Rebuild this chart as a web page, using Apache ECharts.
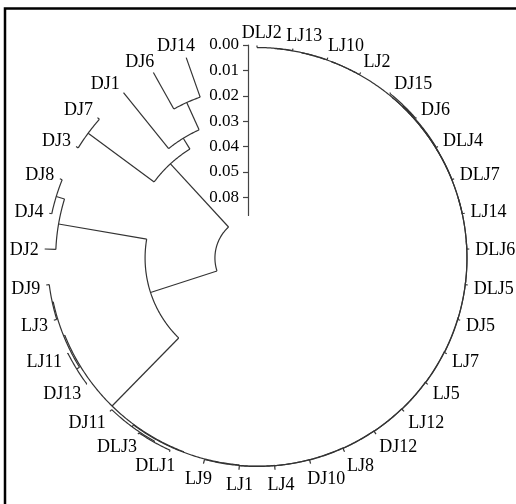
<!DOCTYPE html>
<html>
<head>
<meta charset="utf-8">
<script src="https://cdn.jsdelivr.net/npm/echarts@6/dist/echarts.min.js"></script>
<style>
  html, body { margin: 0; padding: 0; background: #fff; }
  #chart { width: 516px; height: 504px; }
</style>
</head>
<body>
<div id="chart"></div>
<script>
// Leaf labels, in drawing order (clockwise from the top)
const leafLabels = ['DLJ2','LJ13','LJ10','LJ2','DJ15','DJ6','DLJ4','DLJ7','LJ14','DLJ6',
  'DLJ5','DJ5','LJ7','LJ5','LJ12','DJ12','LJ8','DJ10','LJ4','LJ1','LJ9','DLJ1','DLJ3',
  'DJ11','DJ13','LJ11','LJ3','DJ9','DJ2','DJ4','DJ8','DJ3','DJ7','DJ1','DJ6','DJ14'];

// Merge steps (hclust style: negative = leaf number, positive = earlier merge row)
const mergePairs = [
  [-1, -2], [1, -3], [2, -4], [-5, -6], [4, -7], [5, -8], [3, 6], [7, -9], [8, -10],
  [9, -11], [10, -12], [11, -13], [12, -14], [13, -15], [14, -16], [15, -17], [16, -18],
  [17, -19], [18, -20], [19, -21], [-22, -23], [21, -24], [20, 22], [-25, -26],
  [-27, -28], [24, 25], [23, 26], [-30, -31], [-29, 28], [27, 29], [-32, -33],
  [-35, -36], [-34, 32], [31, 33], [30, 34]
];
// Genetic distance at each merge
const mergeHeights = [
  0.0008, 0.0009, 0.0010, 0.0004, 0.0007, 0.0009, 0.0010, 0.0010, 0.0010,
  0.0010, 0.0010, 0.0010, 0.0011, 0.0012, 0.0013, 0.0014, 0.0015,
  0.0016, 0.0016, 0.0017, 0.0006, 0.0010, 0.0019, 0.0003,
  0.0012, 0.0016, 0.0021, 0.0010, 0.0044, 0.0396, 0.0010,
  0.0165, 0.0283, 0.0333, 0.0671
];

// Scale bar ticks and their printed labels
const scaleTicks = [0, 0.01, 0.02, 0.03, 0.04, 0.05, 0.06];
const scaleLabels = ['0.00', '0.01', '0.02', '0.03', '0.04', '0.05', '0.08'];

const ANGLE_SLOTS = leafLabels.length + 1;   // one empty slot where the scale bar sits
const ROOT_HEIGHT = mergeHeights[mergeHeights.length - 1];
const RADIUS_PX = 212.5;
const PX_PER_UNIT = 2540;
const DIST_MAX = RADIUS_PX / PX_PER_UNIT;     // distance value at the centre of the circle

// Build the branch records: [height, angleA, heightA, angleB, heightB]
const nodeAngle = [];
const branchData = [];
function ref(k) {
  if (k < 0) return { angle: -k - 1, height: 0 };
  return { angle: nodeAngle[k - 1], height: mergeHeights[k - 1] };
}
mergePairs.forEach(function (pair, j) {
  const a = ref(pair[0]);
  const b = ref(pair[1]);
  nodeAngle[j] = (a.angle + b.angle) / 2;
  branchData.push([mergeHeights[j], a.angle, a.height, b.angle, b.height]);
});
const leafData = leafLabels.map(function (name, i) { return { name: name, value: [0, i] }; });

const LINE_COLOR = '#333';
const LABEL_FONT = 'Liberation Serif';
const LABEL_SIZE = 18;
const measureCtx = document.createElement('canvas').getContext('2d');
measureCtx.font = LABEL_SIZE + 'px "' + LABEL_FONT + '"';

function renderBranch(params, api) {
  const h = api.value(0), a1 = api.value(1), h1 = api.value(2), a2 = api.value(3), h2 = api.value(4);
  const steps = Math.max(2, Math.ceil(Math.abs(a2 - a1) * 24));
  const arc = [];
  for (let i = 0; i <= steps; i++) arc.push(api.coord([h, a1 + (a2 - a1) * i / steps]));
  const style = { stroke: LINE_COLOR, lineWidth: 1.2, fill: null };
  const p1 = api.coord([h1, a1]), q1 = api.coord([h, a1]);
  const p2 = api.coord([h2, a2]), q2 = api.coord([h, a2]);
  return {
    type: 'group',
    children: [
      { type: 'polyline', shape: { points: arc }, style: style },
      { type: 'line', shape: { x1: p1[0], y1: p1[1], x2: q1[0], y2: q1[1] }, style: style },
      { type: 'line', shape: { x1: p2[0], y1: p2[1], x2: q2[0], y2: q2[1] }, style: style }
    ]
  };
}

function renderLeafLabel(params, api) {
  const name = leafLabels[params.dataIndex];
  const tip = api.coord([api.value(0), api.value(1)]);
  const c = api.coord([DIST_MAX, 0]);
  const dx = tip[0] - c[0], dy = tip[1] - c[1];
  const len = Math.hypot(dx, dy);
  const s = dx / len, co = -dy / len;
  const hj = Math.min(1, Math.max(0, 0.38 - s));
  const w = measureCtx.measureText(name).width;
  return {
    type: 'text',
    x: tip[0] + 6 * s - hj * w,
    y: tip[1] - 14 * co + 2,
    style: {
      text: name, fill: '#000', fontFamily: LABEL_FONT, fontSize: LABEL_SIZE,
      align: 'left', verticalAlign: 'middle'
    }
  };
}

const chart = echarts.init(document.getElementById('chart'), null, { renderer: 'canvas' });
chart.setOption({
  backgroundColor: '#fff',
  animation: false,
  polar: { center: [257, 258], radius: [0, RADIUS_PX] },
  angleAxis: { type: 'value', min: 0, max: ANGLE_SLOTS, startAngle: 90, clockwise: true, show: false },
  radiusAxis: { type: 'value', min: 0, max: DIST_MAX, inverse: true, show: false },
  grid: { left: 248, top: 45, width: 10, height: ROOT_HEIGHT * PX_PER_UNIT, containLabel: false },
  xAxis: { type: 'value', show: false },
  yAxis: {
    type: 'value', inverse: true, min: 0, max: ROOT_HEIGHT, interval: 0.01, position: 'left',
    axisLine: { show: true, lineStyle: { color: '#444', width: 1.2 } },
    axisTick: { show: true, length: 5, customValues: scaleTicks, lineStyle: { color: '#444', width: 1.2 } },
    axisLabel: {
      customValues: scaleTicks, margin: 9, color: '#000', fontFamily: LABEL_FONT, fontSize: 17,
      formatter: function (v) { const t = scaleLabels[Math.round(v / 0.01)]; return t === undefined ? '' : t; }
    },
    splitLine: { show: false }
  },
  graphic: [{
    type: 'rect', shape: { x: 5, y: 8.5, width: 540, height: 540 },
    style: { fill: null, stroke: '#000', lineWidth: 2.5 }, silent: true
  }],
  series: [
    {
      type: 'custom', coordinateSystem: 'polar', silent: true,
      dimensions: ['h', 'a1', 'h1', 'a2', 'h2'], encode: { radius: 0, angle: 1 },
      renderItem: renderBranch, data: branchData
    },
    {
      type: 'custom', coordinateSystem: 'polar', silent: true,
      encode: { radius: 0, angle: 1 },
      renderItem: renderLeafLabel, data: leafData
    }
  ]
});
</script>
</body>
</html>
